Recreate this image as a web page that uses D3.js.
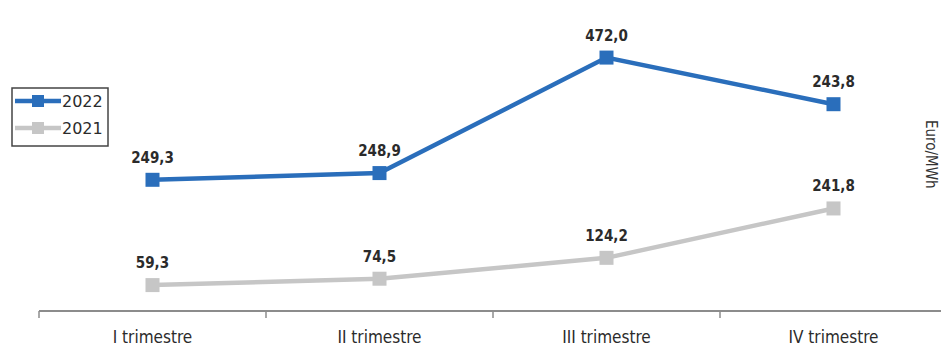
<!DOCTYPE html>
<html>
<head>
<meta charset="utf-8">
<script src="https://cdn.jsdelivr.net/npm/d3@7"></script>
<style>
  body { margin: 0; background: #fff; }
  text { font-family: "DejaVu Sans Condensed", "DejaVu Sans", sans-serif; }
</style>
</head>
<body>
<div id="chart"></div>
<script>
// Data
const quarters = ["I trimestre", "II trimestre", "III trimestre", "IV trimestre"];
const values2021 = [59.3, 74.5, 124.2, 241.8];
const values2022 = [249.3, 248.9, 472.0, 243.8];
// the 2022 markers in the original sit higher than their printed values,
// so their plotted height is read separately from the picture
const plotted2022 = [310, 326, 601, 490];

const width = 941, height = 347;

const svg = d3.select("#chart")
    .append("svg")
        .attr("width", width)
        .attr("height", height);

// Scales
const x = d3.scaleBand()
    .domain(quarters)
    .range([39, 947]);

const y = d3.scaleLinear()
    .domain([0, 700])
    .range([310, 16]);

// Axis
const axis = svg.append("g")
    .attr("transform", "translate(0,311)")
    .call(d3.axisBottom(x).tickSize(0).tickPadding(18));

axis.select(".domain").remove();
axis.append("line")
    .attr("x1", 39).attr("x2", width)
    .attr("stroke", "#8c8c8c").attr("stroke-width", 2);

axis.selectAll(".tick text")
    .attr("fill", "#2b2b2b")
    .style("font-size", "17px")
    .attr("dy", "0.85em");

svg.append("g")
    .selectAll("line")
    .data(quarters)
    .join("line")
        .attr("x1", d => x(d)).attr("x2", d => x(d))
        .attr("y1", 311).attr("y2", 318)
        .attr("stroke", "#8c8c8c").attr("stroke-width", 1.5);

// Series
const series = [
    { name: "2021", color: "#c6c6c6", pos: values2021, labels: values2021 },
    { name: "2022", color: "#2a6ebb", pos: plotted2022, labels: values2022 }
];

const cx = d => x(d) + x.bandwidth() / 2;
const fmt = v => v.toFixed(1).replace(".", ",");

const line = d3.line()
    .x(d => cx(d.q))
    .y(d => y(d.v));

series.forEach(s => {
    const pts = quarters.map((q, i) => ({ q: q, v: s.pos[i], label: s.labels[i] }));

    svg.append("path")
        .datum(pts)
        .attr("fill", "none")
        .attr("stroke", s.color)
        .attr("stroke-width", 4.5)
        .attr("d", line);

    svg.append("g")
        .selectAll("rect")
        .data(pts)
        .join("rect")
            .attr("x", d => cx(d.q) - 7)
            .attr("y", d => y(d.v) - 7)
            .attr("width", 14)
            .attr("height", 14)
            .attr("fill", s.color);

    svg.append("g")
        .selectAll("text")
        .data(pts)
        .join("text")
            .attr("x", d => cx(d.q))
            .attr("y", d => y(d.v) - 17)
            .attr("text-anchor", "middle")
            .attr("fill", "#2b2b2b")
            .style("font-size", "15px")
            .style("font-weight", "bold")
            .text(d => fmt(d.label));
});

// Unit label
svg.append("text")
    .attr("transform", "translate(926,120) rotate(90)")
    .attr("fill", "#333")
    .style("font-size", "15px")
    .text("Euro/MWh");

// Legend
const legend = svg.append("g");

legend.append("rect")
    .attr("x", 12).attr("y", 88)
    .attr("width", 96).attr("height", 58)
    .attr("fill", "none")
    .attr("stroke", "#444")
    .attr("stroke-width", 1.5);

const items = legend.selectAll(".item")
    .data(series.slice().reverse())
    .join("g")
        .attr("transform", (d, i) => `translate(0,${101 + i * 27})`);

items.append("line")
    .attr("x1", 15).attr("x2", 61)
    .attr("stroke", d => d.color)
    .attr("stroke-width", 4.5);

items.append("rect")
    .attr("x", 32).attr("y", -6)
    .attr("width", 12).attr("height", 12)
    .attr("fill", d => d.color);

items.append("text")
    .attr("x", 62)
    .attr("dy", "0.36em")
    .attr("fill", "#2b2b2b")
    .style("font-family", "'DejaVu Sans', sans-serif")
    .style("font-size", "16px")
    .text(d => d.name);
</script>
</body>
</html>
